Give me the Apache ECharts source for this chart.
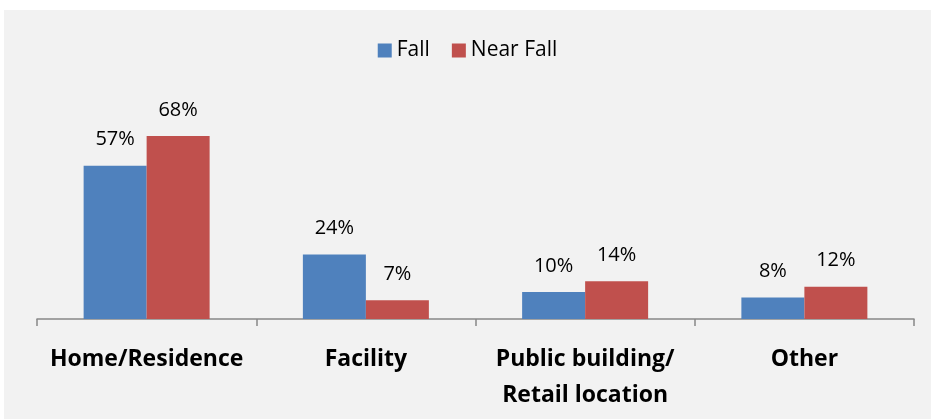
<!DOCTYPE html>
<html>
<head>
<meta charset="utf-8">
<script src="https://cdn.jsdelivr.net/npm/echarts@6/dist/echarts.min.js"></script>
<style>
  html, body { margin: 0; padding: 0; background: #fff; }
  #chart { position: absolute; left: 4px; top: 10px; width: 927px; height: 409px; }
</style>
</head>
<body>
<div id="chart"></div>
<script>
var categories = ['Home/Residence', 'Facility', 'Public building/\nRetail location', 'Other'];
var fallValues = [57, 24, 10, 8];
var nearFallValues = [68, 7, 14, 12];

var chart = echarts.init(document.getElementById('chart'));

var labelStyle = {
    show: true,
    position: 'top',
    distance: 16,
    formatter: '{c}%',
    color: '#000',
    fontFamily: 'Open Sans',
    fontSize: 20
};

chart.setOption({
    backgroundColor: '#F2F2F2',
    animation: false,
    legend: {
        top: 25,
        left: 'center',
        itemWidth: 14,
        itemHeight: 14,
        itemGap: 22,
        icon: 'rect',
        textStyle: { fontFamily: 'Open Sans', fontSize: 21, color: '#000' },
        data: ['Fall', 'Near Fall']
    },
    grid: { left: 33, right: 17, top: 40, bottom: 100 },
    xAxis: {
        type: 'category',
        data: categories,
        axisLine: { lineStyle: { color: '#888', width: 1.5 } },
        axisTick: { show: true, interval: 0, alignWithLabel: false, length: 7, lineStyle: { color: '#888', width: 1.5 } },
        axisLabel: {
            interval: 0,
            margin: 22,
            color: '#000',
            fontFamily: 'Open Sans',
            fontWeight: 'bold',
            fontSize: 23,
            lineHeight: 36
        }
    },
    yAxis: {
        type: 'value',
        min: 0,
        max: 100,
        show: false
    },
    series: [
        {
            name: 'Fall',
            type: 'bar',
            data: fallValues,
            barWidth: 63,
            barGap: '0%',
            itemStyle: { color: '#4F81BD' },
            label: labelStyle
        },
        {
            name: 'Near Fall',
            type: 'bar',
            data: nearFallValues,
            barWidth: 63,
            itemStyle: { color: '#C0504D' },
            label: labelStyle
        }
    ]
});
</script>
</body>
</html>
